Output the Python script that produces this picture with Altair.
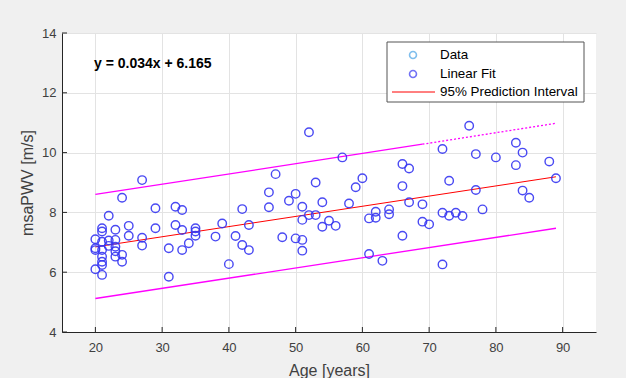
import altair as alt
import pandas as pd

# ---- data ----
ages = [20, 20, 20, 20,
        21, 21, 21, 21, 21, 21, 21, 21,
        22, 22, 22,
        23, 23, 23, 23, 23,
        24, 24, 24,
        25, 25,
        27, 27, 27,
        29, 29,
        31, 31,
        32, 32,
        33, 33, 33,
        34,
        35, 35, 35,
        38, 39, 40, 41,
        42, 42,
        43, 43,
        46, 46, 47, 48, 49,
        50, 50,
        51, 51, 51, 51,
        52, 52,
        53, 53,
        54, 54,
        55, 56, 57, 58, 59, 60,
        61, 61,
        62, 62,
        63,
        64, 64,
        66, 66, 66,
        67, 67,
        69, 69,
        70,
        72, 72, 72,
        73, 73,
        74, 75, 76,
        77, 77,
        78, 80,
        83, 83,
        84, 84,
        85, 88, 89]
pwv = [7.10, 6.80, 6.74, 6.10,
       7.47, 7.36, 7.02, 6.74, 6.52, 6.35, 6.24, 5.91,
       7.89, 7.06, 6.88,
       7.42, 7.08, 6.85, 6.70, 6.52,
       8.49, 6.58, 6.35,
       7.55, 7.22,
       9.08, 7.15, 6.89,
       8.14, 7.47,
       6.80, 5.85,
       8.19, 7.58,
       8.08, 7.41, 6.74,
       6.97,
       7.47, 7.36, 7.22,
       7.19, 7.63, 6.27, 7.21,
       8.11, 6.91,
       7.58, 6.74,
       8.67, 8.17, 9.28, 7.17, 8.39,
       8.62, 7.13,
       8.19, 7.75, 7.08, 6.72,
       10.68, 7.91,
       9.00, 7.91,
       8.34, 7.52,
       7.72, 7.55, 9.84, 8.30, 8.84, 9.14,
       7.80, 6.61,
       8.02, 7.82,
       6.38,
       8.10, 7.94,
       9.62, 8.88, 7.22,
       9.47, 8.34,
       8.27, 7.69,
       7.60,
       10.12, 7.99, 6.26,
       9.06, 7.89,
       7.99, 7.88, 10.90,
       9.95, 8.75,
       8.10, 9.84,
       10.33, 9.58,
       10.00, 8.73,
       8.49, 9.70, 9.14]

fit_age = [20, 89]
fit_val = [6.845, 9.191]

pi_age_solid = [20, 69]
pi_upper_solid = [8.60, 10.28]
pi_age_dot = [69, 89]
pi_upper_dot = [10.28, 10.98]
pi_age_low = [20, 89]
pi_lower = [5.12, 7.47]

x_ticks = [20, 30, 40, 50, 60, 70, 80, 90]
y_ticks = [4, 6, 8, 10, 12, 14]

equation = "y = 0.034x + 6.165"
legend_labels = ["Data", "Linear Fit", "95% Prediction Interval"]
x_title = "Age [years]"
y_title = "msaPWV [m/s]"

FONT = "Liberation Sans"
W, H = 534, 299

xs = alt.Scale(domain=[15, 95], nice=False, zero=False)
ys = alt.Scale(domain=[4, 14], nice=False, zero=False)

df_pts = pd.DataFrame({"age": ages, "pwv": pwv})
df_fit = pd.DataFrame({"age": fit_age, "v": fit_val})
df_up1 = pd.DataFrame({"age": pi_age_solid, "v": pi_upper_solid})
df_up2 = pd.DataFrame({"age": pi_age_dot, "v": pi_upper_dot})
df_low = pd.DataFrame({"age": pi_age_low, "v": pi_lower})

base_axes = alt.Chart(df_pts).mark_point(opacity=0).encode(
    x=alt.X("age:Q", scale=xs, title=x_title,
            axis=alt.Axis(values=x_ticks, ticks=False, labelPadding=9,
                          titlePadding=8, grid=True)),
    y=alt.Y("pwv:Q", scale=ys, title=y_title,
            axis=alt.Axis(values=y_ticks, ticks=False, labelPadding=6,
                          titlePadding=6, grid=True)),
)

pts = alt.Chart(df_pts).mark_point(
    shape="circle", filled=False, size=72, strokeWidth=1.4,
    color="#3636f2", opacity=0.9
).encode(x=alt.X("age:Q", scale=xs), y=alt.Y("pwv:Q", scale=ys))

def line(df, color, width, dash=None):
    kw = dict(color=color, strokeWidth=width)
    if dash:
        kw["strokeDash"] = dash
    return alt.Chart(df).mark_line(**kw).encode(
        x=alt.X("age:Q", scale=xs), y=alt.Y("v:Q", scale=ys))

fit = line(df_fit, "#ff0000", 1.0)
up1 = line(df_up1, "#ff00ff", 1.3)
up2 = line(df_up2, "#ff00ff", 1.3, [2, 2])
low = line(df_low, "#ff00ff", 1.3)

# inward tick marks
xt = alt.Chart(pd.DataFrame({"t": x_ticks})).mark_rule(color="#262626").encode(
    x=alt.X("t:Q", scale=xs), y=alt.value(H), y2=alt.value(H - 5))
yt = alt.Chart(pd.DataFrame({"t": y_ticks})).mark_rule(color="#262626").encode(
    y=alt.Y("t:Q", scale=ys), x=alt.value(0), x2=alt.value(5))

eq = alt.Chart(pd.DataFrame({"t": [equation]})).mark_text(
    font=FONT, fontSize=14, fontWeight="bold", align="left",
    baseline="middle", color="#000000"
).encode(text="t:N", x=alt.value(32), y=alt.value(31))

# legend box
lg_box = alt.Chart(pd.DataFrame({"a": [0]})).mark_rect(
    fill="white", stroke="#555555", strokeWidth=1
).encode(x=alt.value(325), x2=alt.value(522), y=alt.value(9), y2=alt.value(69))

def lg_text(label, y):
    return alt.Chart(pd.DataFrame({"t": [label]})).mark_text(
        font=FONT, fontSize=13.4, align="left", baseline="middle", color="#000000"
    ).encode(text="t:N", x=alt.value(378), y=alt.value(y))

def lg_sym(color, y):
    return alt.Chart(pd.DataFrame({"a": [0]})).mark_point(
        shape="circle", filled=False, size=48, strokeWidth=1.6, color=color
    ).encode(x=alt.value(351), y=alt.value(y))

lg_line = alt.Chart(pd.DataFrame({"a": [0]})).mark_rule(
    color="#ff0000", strokeWidth=1
).encode(x=alt.value(330), x2=alt.value(373), y=alt.value(59))

chart = alt.layer(
    base_axes, xt, yt, up1, up2, low, fit, pts, eq,
    lg_box, lg_sym("#4aa3e6", 22), lg_sym("#3636f2", 41), lg_line,
    lg_text(legend_labels[0], 22), lg_text(legend_labels[1], 41),
    lg_text(legend_labels[2], 59),
).properties(
    width=W, height=H,
    background="#f0f0f0",
    autosize=alt.AutoSizeParams(type="none"),
    padding={"left": 62, "top": 33, "right": 30, "bottom": 46},
).configure_view(
    fill="white", strokeWidth=0
).configure_axis(
    labelFont=FONT, labelFontSize=13, labelColor="#404040",
    titleFont=FONT, titleFontSize=16, titleColor="#404040", titleFontWeight="normal",
    domainColor="#262626", domainWidth=1,
    gridColor="#e3e3e3", gridWidth=1,
)

chart.save("out.html", embed_options={"renderer": "svg", "actions": False})
